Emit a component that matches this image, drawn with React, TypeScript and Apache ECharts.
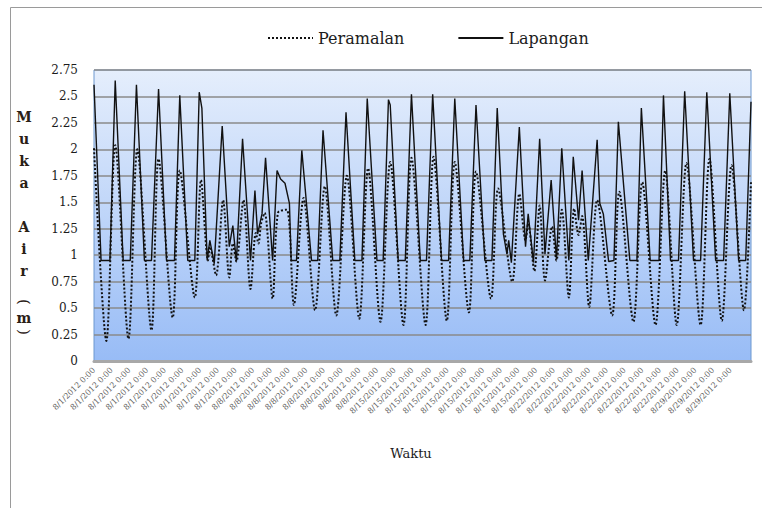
import React, { useEffect, useRef } from 'react';
import * as echarts from 'echarts';

// Hour index (from 8/1/2012 0:00) and water level (m)
const lapanganHours = [
  0, 8, 18, 24, 33, 41, 48, 57, 65, 73, 82, 91, 97, 106, 114, 119, 122, 128, 131, 136,
  145, 153, 157, 161, 168, 177, 182, 185, 190, 194, 202, 207, 211, 216, 221, 223, 229, 235,
  246, 253, 259, 270, 278, 285, 295, 303, 309, 320, 327, 333, 335, 344, 352, 359, 369, 376,
  383, 393, 401, 408, 418, 425, 432, 442, 450, 456, 463, 467, 469, 472, 481, 488, 491, 497,
  504, 510, 517, 523, 529, 537, 542, 548, 552, 559, 569, 572, 576, 582, 588, 593, 606, 614,
  619, 629, 639, 644, 652, 661, 668, 678, 686, 693, 703, 712, 719, 729, 737, 743
];
const lapanganLevels = [
  2.61, 0.95, 0.95, 2.65, 0.95, 0.95, 2.61, 0.95, 0.95, 2.57, 0.95, 0.95, 2.51, 0.95, 0.95, 2.54, 2.39, 0.95, 1.14, 0.92,
  2.22, 1.08, 1.28, 0.94, 2.10, 0.95, 1.61, 1.20, 1.39, 1.92, 0.95, 1.80, 1.72, 1.68, 1.49, 0.95, 0.95, 1.99,
  0.95, 0.95, 2.18, 0.95, 0.95, 2.35, 0.95, 0.95, 2.48, 0.95, 0.95, 2.47, 2.42, 0.95, 0.95, 2.52, 0.95, 0.95,
  2.52, 0.95, 0.95, 2.48, 0.95, 0.95, 2.42, 0.95, 0.95, 2.39, 1.20, 1.01, 1.14, 0.93, 2.21, 1.08, 1.39, 0.93,
  2.10, 1.01, 1.71, 0.96, 2.01, 0.95, 1.93, 1.33, 1.80, 0.95, 2.09, 1.49, 1.39, 0.94, 0.95, 2.26, 0.95, 0.95,
  2.39, 0.95, 0.95, 2.51, 0.95, 0.95, 2.55, 0.95, 0.95, 2.54, 0.95, 0.95, 2.53, 0.95, 0.95, 2.45
];
const peramalanHours = [
  0, 14, 24, 39, 49, 65, 73, 89, 97, 114, 121, 129, 131, 138, 146, 153, 157, 161, 169, 177,
  183, 186, 189, 193, 202, 208, 218, 226, 237, 250, 261, 274, 286, 300, 310, 324, 335, 350,
  359, 375, 384, 399, 408, 424, 432, 449, 457, 473, 481, 488, 491, 498, 504, 510, 518, 523,
  529, 537, 543, 548, 552, 560, 569, 586, 594, 610, 620, 635, 646, 659, 670, 686, 696, 710,
  721, 735, 743
];
const peramalanLevels = [
  2.01, 0.19, 2.04, 0.21, 2.00, 0.29, 1.91, 0.41, 1.80, 0.60, 1.71, 0.95, 1.08, 0.81, 1.52, 0.79, 1.11, 0.94, 1.52, 0.68,
  1.21, 1.11, 1.30, 1.40, 0.59, 1.40, 1.43, 0.53, 1.54, 0.48, 1.65, 0.43, 1.75, 0.40, 1.82, 0.37, 1.88, 0.34,
  1.92, 0.34, 1.93, 0.38, 1.88, 0.46, 1.79, 0.59, 1.63, 0.75, 1.58, 1.14, 1.30, 0.85, 1.47, 0.76, 1.27, 0.95,
  1.43, 0.60, 1.44, 1.19, 1.37, 0.51, 1.52, 0.43, 1.60, 0.37, 1.69, 0.34, 1.80, 0.34, 1.87, 0.34, 1.91, 0.38,
  1.85, 0.48, 1.70
];

// X tick labels: one label every 20 hours
const tickDates = ['8/1/2012', '8/8/2012', '8/15/2012', '8/22/2012', '8/29/2012'];
const tickCounts = [9, 8, 9, 8, 3];
const tickTime = '0:00';
const tickStep = 20;

const seriesNames = ['Peramalan', 'Lapangan'];
const yTitle = 'M\nu\nk\na\n\nA\ni\nr';
const xTitle = 'Waktu';

export default function App() {
  const ref = useRef<HTMLDivElement>(null);
  useEffect(() => {
    const chart = echarts.init(ref.current!, null, { renderer: 'svg' });
    const tickLabels: string[] = [];
    tickDates.forEach((d, i) => {
      for (let k = 0; k < tickCounts[i]; k++) tickLabels.push(`${d} ${tickTime}`);
    });
    const serif = "'DejaVu Serif', 'Liberation Serif', serif";
    const lap = lapanganHours.map((h, i) => [h, lapanganLevels[i]]);
    const per = peramalanHours.map((h, i) => [h, peramalanLevels[i]]);
    chart.setOption({
      animation: false,
      backgroundColor: '#ffffff',
      legend: {
        left: 262,
        top: 25,
        itemWidth: 45,
        itemHeight: 12,
        itemGap: 53,
        data: seriesNames,
        itemStyle: { opacity: 0 },
        textStyle: { fontFamily: serif, fontSize: 16, color: '#1c1c1c' },
      },
      grid: {
        left: 94,
        right: 11,
        top: 70,
        bottom: 147,
        show: true,
        borderColor: '#6d98cf',
        borderWidth: 1,
        backgroundColor: new echarts.graphic.LinearGradient(0, 0, 0, 1, [
          { offset: 0, color: '#E5EEFC' },
          { offset: 1, color: '#98BCF6' },
        ]),
      },
      xAxis: {
        type: 'value',
        min: 0,
        max: 743,
        interval: tickStep,
        offset: 4,
        splitLine: { show: false },
        axisTick: { show: false },
        axisLine: { show: true, lineStyle: { color: '#a8a8a8', width: 3 } },
        axisLabel: {
          rotate: 45,
          margin: 4,
          fontFamily: serif,
          fontSize: 8,
          color: '#5a5a5a',
          showMinLabel: true,
          showMaxLabel: true,
          formatter: (v: number) => {
            const k = v / tickStep;
            return Number.isInteger(k) && k < tickLabels.length ? tickLabels[k] : '';
          },
        },
      },
      yAxis: {
        type: 'value',
        min: 0,
        max: 2.75,
        interval: 0.25,
        axisLine: { show: false },
        axisTick: { show: false },
        splitLine: { show: true, lineStyle: { color: '#8a8a8a', width: 1.5 } },
        axisLabel: { margin: 16, fontFamily: serif, fontSize: 12, color: '#1c1c1c' },
      },
      series: [
        {
          name: seriesNames[0],
          type: 'line',
          data: per,
          symbol: 'none',
          smooth: 0.3,
          lineStyle: { color: '#111', width: 2, type: [2, 2] },
          itemStyle: { color: '#111' },
        },
        {
          name: seriesNames[1],
          type: 'line',
          data: lap,
          symbol: 'none',
          lineStyle: { color: '#111', width: 1.4, type: 'solid' },
          itemStyle: { color: '#111' },
        },
      ],
      graphic: [
        {
          type: 'rect',
          silent: true,
          z: -10,
          shape: { x: 10.5, y: 7.5, width: 800, height: 600 },
          style: { fill: 'none', stroke: '#9a9a9a', lineWidth: 1 },
        },
        {
          type: 'text',
          silent: true,
          x: 24,
          y: 106,
          style: {
            text: yTitle,
            textAlign: 'center',
            textVerticalAlign: 'top',
            lineHeight: 22,
            fontFamily: serif,
            fontSize: 14,
            fontWeight: 'bold',
            fill: '#2a2015',
          },
        },
        {
          type: 'text',
          silent: true,
          x: 24,
          y: 302,
          rotation: -Math.PI / 2,
          style: { text: '(', textAlign: 'center', textVerticalAlign: 'middle', fontFamily: serif, fontSize: 15, fill: '#2a2015' },
        },
        {
          type: 'text',
          silent: true,
          x: 24,
          y: 318,
          style: { text: 'm', textAlign: 'center', textVerticalAlign: 'middle', fontFamily: serif, fontSize: 14, fontWeight: 'bold', fill: '#2a2015' },
        },
        {
          type: 'text',
          silent: true,
          x: 24,
          y: 332,
          rotation: -Math.PI / 2,
          style: { text: ')', textAlign: 'center', textVerticalAlign: 'middle', fontFamily: serif, fontSize: 15, fill: '#2a2015' },
        },
        {
          type: 'text',
          silent: true,
          x: 411,
          y: 453,
          style: { text: xTitle, textAlign: 'center', textVerticalAlign: 'middle', fontFamily: serif, fontSize: 13, fill: '#1c1c1c' },
        },
      ],
    });
    return () => chart.dispose();
  }, []);
  return <div ref={ref} style={{ position: 'fixed', left: 0, top: 0, width: 762, height: 508 }} />;
}
